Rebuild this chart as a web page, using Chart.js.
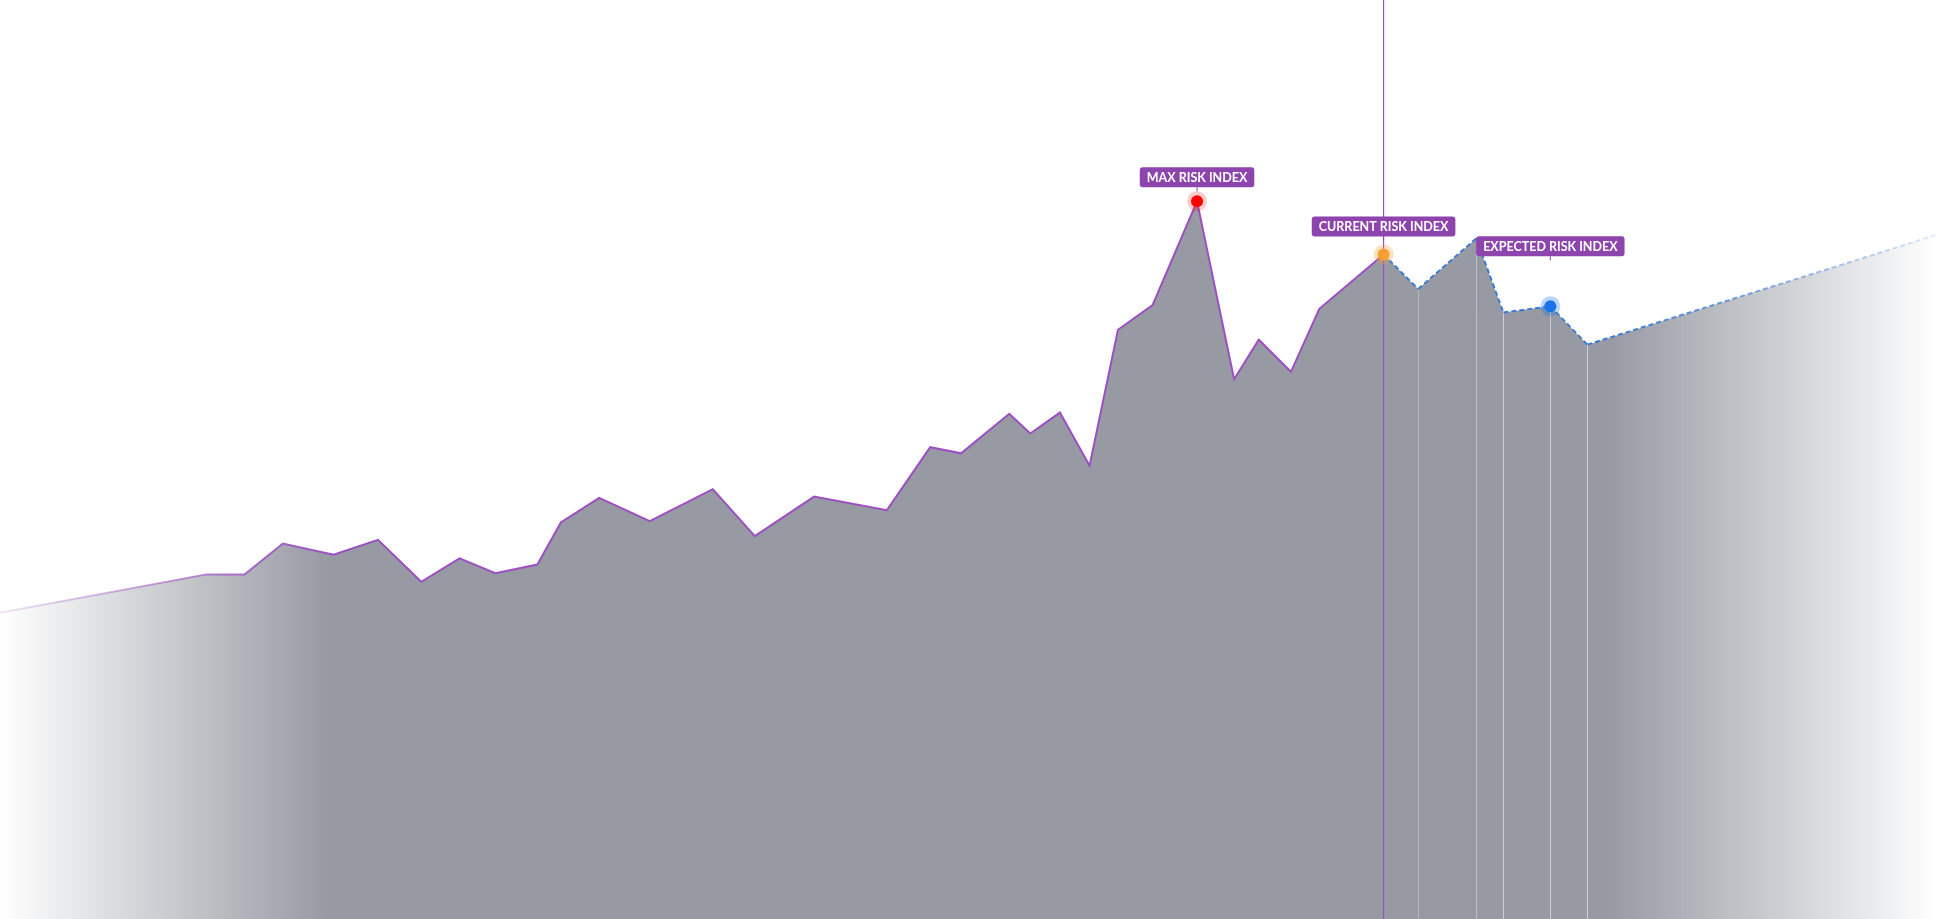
<!DOCTYPE html>
<html>
<head>
<meta charset="utf-8">
<script src="https://cdn.jsdelivr.net/npm/chart.js@4.4.0/dist/chart.umd.min.js"></script>
<style>
  html, body { margin: 0; padding: 0; background: #fff; }
  #wrap { width: 1937px; height: 919px; }
</style>
</head>
<body>
<div id="wrap"><canvas id="riskChart"></canvas></div>
<script>
// Days along the timeline and the risk index
const days = [0, 167, 198, 229, 270, 306, 341, 372, 401, 435, 454, 485, 526, 577, 611, 659,
    718, 753, 778, 817, 834, 858, 882, 905, 933, 969, 999, 1019, 1045, 1068, 1120,
    1148, 1195, 1217, 1255, 1285, 1568];
const riskIndex = [248, 279, 279, 304, 295, 307, 273, 292, 280, 287, 321, 341, 322, 348, 310, 342,
    331, 382, 377, 409, 393, 410, 367, 477, 497, 581, 437, 469, 443, 494, 538,
    510, 551, 491, 496, 465, 554];
const currentIndex = 30;   // last observed point, the rest is expected
const maxIndex = 25;
const expectedIndex = 34;
const markerLabels = ['MAX RISK INDEX', 'CURRENT RISK INDEX', 'EXPECTED RISK INDEX'];

function fadeGradient(chart, color, faded) {
    const area = chart.chartArea;
    if (!area) return color;
    const g = chart.ctx.createLinearGradient(area.left, 0, area.right, 0);
    g.addColorStop(0, faded);
    g.addColorStop(0.17, color);
    g.addColorStop(0.83, color);
    g.addColorStop(1, faded);
    return g;
}

const markerPlugin = {
    id: 'markers',
    afterDatasetsDraw(chart) {
        const ctx = chart.ctx;
        const xs = chart.scales.x, ys = chart.scales.y;
        const area = chart.chartArea;

        // vertical "today" line
        const cx = xs.getPixelForValue(days[currentIndex]);
        ctx.save();
        ctx.strokeStyle = '#9b4fc0';
        ctx.lineWidth = 1.2;
        ctx.beginPath();
        ctx.moveTo(cx, area.top);
        ctx.lineTo(cx, area.bottom);
        ctx.stroke();

        const marks = [
            { i: maxIndex, color: '#ff0000', halo: 'rgba(255,0,0,0.2)', gap: 14 },
            { i: currentIndex, color: '#f5a030', halo: 'rgba(245,160,48,0.3)', gap: 18 },
            { i: expectedIndex, color: '#1a73e8', halo: 'rgba(26,115,232,0.3)', gap: 50 }
        ];
        marks.forEach(function(m, k) {
            const px = xs.getPixelForValue(days[m.i]);
            const py = ys.getPixelForValue(riskIndex[m.i]);
            ctx.fillStyle = m.halo;
            ctx.beginPath(); ctx.arc(px, py, 10, 0, Math.PI * 2); ctx.fill();
            ctx.fillStyle = m.color;
            ctx.beginPath(); ctx.arc(px, py, 6, 0, Math.PI * 2); ctx.fill();

            ctx.font = 'bold 12.5px Lato';
            const text = markerLabels[k];
            const w = ctx.measureText(text).width + 14;
            const h = 20;
            const bottom = py - m.gap;
            ctx.fillStyle = '#8e44ad';
            ctx.beginPath();
            ctx.roundRect(px - w / 2, bottom - h, w, h, 3);
            ctx.fill();
            ctx.strokeStyle = '#8e44ad';
            ctx.lineWidth = 1;
            ctx.beginPath(); ctx.moveTo(px, bottom); ctx.lineTo(px, bottom + 4); ctx.stroke();
            ctx.fillStyle = '#ffffff';
            ctx.textAlign = 'center';
            ctx.textBaseline = 'middle';
            ctx.fillText(text, px, bottom - h / 2 + 1);
        });
        ctx.restore();
    }
};

new Chart(document.getElementById('riskChart').getContext('2d'), {
    type: 'line',
    data: {
        datasets: [{
            data: days.map(function(d, i) { return { x: d, y: riskIndex[i] }; }),
            fill: 'start',
            tension: 0,
            borderWidth: 2,
            pointRadius: 0,
            borderColor: function(c) { return fadeGradient(c.chart, '#9b4fc0', 'rgba(155,79,192,0.15)'); },
            backgroundColor: function(c) { return fadeGradient(c.chart, '#979aa3', 'rgba(151,154,163,0)'); },
            segment: {
                borderColor: function(s) {
                    return s.p0DataIndex >= currentIndex ? fadeGradient(s.chart, '#3a7bd5', 'rgba(58,123,213,0.15)') : undefined;
                },
                borderDash: function(s) { return s.p0DataIndex >= currentIndex ? [5, 3] : undefined; }
            }
        }]
    },
    options: {
        responsive: true,
        maintainAspectRatio: false,
        animation: false,
        layout: { padding: 0 },
        plugins: { legend: { display: false }, tooltip: { enabled: false } },
        scales: {
            x: { type: 'linear', min: 0, max: 1568, display: false },
            y: { min: 0, max: 744, display: false }
        }
    },
    plugins: [markerPlugin]
});
</script>
</body>
</html>
